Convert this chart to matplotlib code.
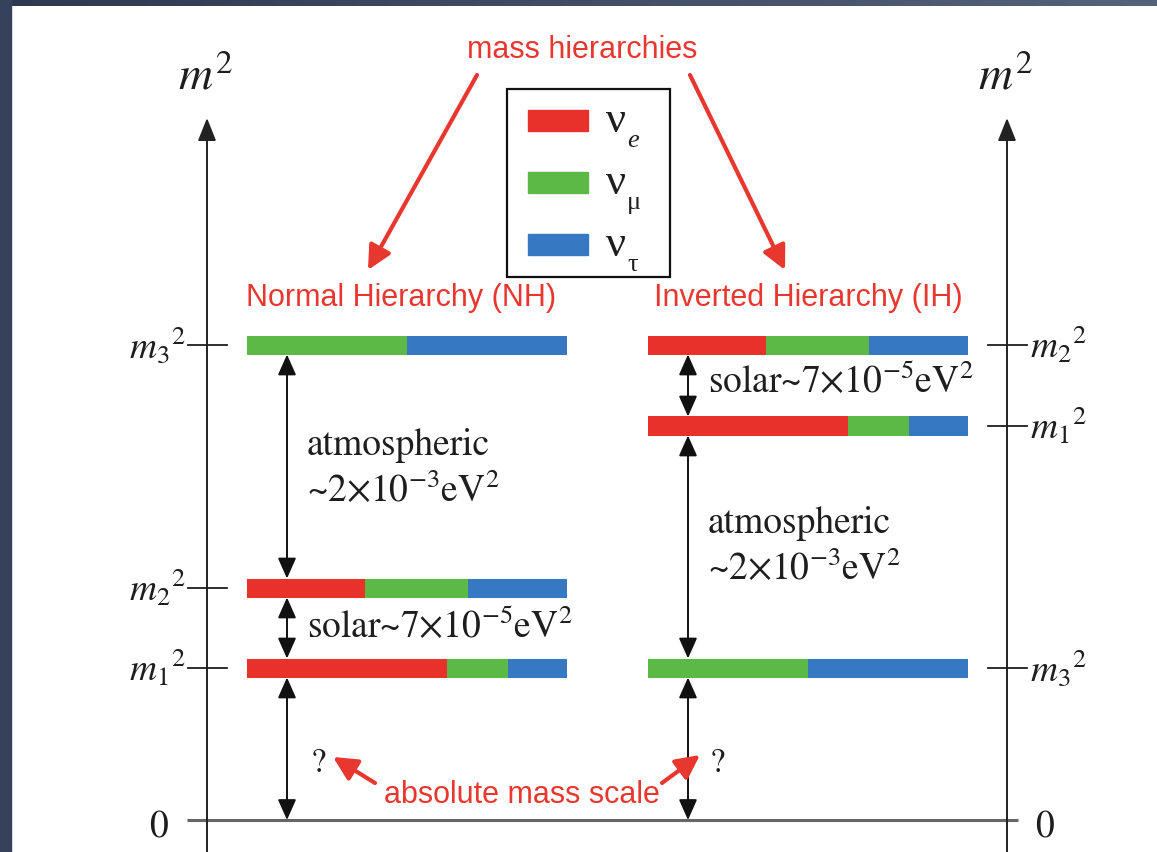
import numpy as np
import matplotlib
matplotlib.use('Agg')
import matplotlib.pyplot as plt
from matplotlib.patches import Rectangle
from matplotlib.colors import LinearSegmentedColormap


# (0) Data: squared-mass levels (arbitrary units) and flavour content
mass_names   = ['m_1', 'm_2', 'm_3']
nh_levels    = [1.52, 2.32, 4.75]
ih_levels    = [3.94, 4.75, 1.52]
flavour_frac = {'m_1': [0.625, 0.19, 0.185],
                'm_2': [0.37, 0.32, 0.31],
                'm_3': [0.0, 0.50, 0.50]}
flavour_lbl  = ['e', 'μ', 'τ']
flavour_col  = ['#e8312a', '#5cb946', '#3778c3']
atm_text     = ['atmospheric', r'~2$\times$10$^{-3}$eV$^2$']
sol_text     = r'solar~7$\times$10$^{-5}$eV$^2$'


plt.rcParams['font.family'] = ['STIXGeneral', 'DejaVu Serif']
plt.rcParams['mathtext.fontset'] = 'stix'
RED   = '#e8372e'
INK   = '#1e1e1e'
SANS  = ['Liberation Sans Narrow', 'Liberation Sans']
GREEK = ['Liberation Serif', 'DejaVu Serif']

def X(p):  return p / 100.0
def Y(p):  return (820 - p) / 100.0


# (1) Canvas
fig = plt.figure(figsize=(11.57, 8.52), dpi=100)
ax  = fig.add_axes([0, 0, 1, 1])
ax.set_xlim(0, 11.57)
ax.set_ylim(-0.32, 8.20)
ax.axis('off')

fig.patches.append(Rectangle((0, 0), 11/1157, 1, transform=fig.transFigure,
                             color='#36415b', zorder=0))
gax = fig.add_axes([0, 1 - 6/852, 1, 6/852])
gax.imshow(np.linspace(0, 1, 256)[None, :], aspect='auto',
           cmap=LinearSegmentedColormap.from_list('bd', ['#2e3850', '#55627e']))
gax.axis('off')


# (2) Axes lines
arrow_kw = dict(arrowstyle='-|>,head_length=0.5,head_width=0.2', color='#222',
                lw=1.4, mutation_scale=28, shrinkA=0, shrinkB=0)
for xa in (2.07, 10.07):
    ax.annotate('', xy=(xa, Y(118)), xytext=(xa, -0.32), arrowprops=arrow_kw)
    ax.text(xa - 0.02, Y(78), r'$m^2$', fontsize=34, ha='center', va='center', color=INK)
ax.plot([1.87, 10.18], [0, 0], color='#666', lw=2.2, solid_capstyle='butt')
ax.text(1.58, Y(828), '0', fontsize=27, ha='center', va='center', color=INK)
ax.text(10.45, Y(828), '0', fontsize=27, ha='center', va='center', color=INK)


# (3) Levels
bar_w = 3.2
def draw_scheme(levels, x0, side):
    for name, lev in zip(mass_names, levels):
        left = x0
        for f, c in zip(flavour_frac[name], flavour_col):
            if f > 0:
                ax.barh(lev, bar_w * f, left=left, height=0.19, color=c, zorder=2)
            left += bar_w * f
        lbl = r'${%s}^2$' % name
        if side == 'left':
            ax.plot([1.88, 2.27], [lev, lev], color=INK, lw=1.3)
            ax.text(1.86, lev, lbl, fontsize=27, ha='right', va='center', color=INK)
        else:
            ax.plot([9.88, 10.27], [lev, lev], color=INK, lw=1.3)
            ax.text(10.30, lev, lbl, fontsize=27, ha='left', va='center', color=INK)

draw_scheme(nh_levels, 2.47, 'left')
draw_scheme(ih_levels, 6.48, 'right')


# (4) Splittings
dbl = dict(arrowstyle='<|-|>,head_length=0.45,head_width=0.2', color='#111',
           lw=1.4, mutation_scale=28, shrinkA=0, shrinkB=0)
hb = 0.095
def split(x, lo, hi):
    ax.annotate('', xy=(x, hi - hb), xytext=(x, lo + hb), arrowprops=dbl, zorder=3)

m1, m2, m3 = nh_levels
split(2.87, m2, m3)
split(2.87, m1, m2)
split(2.87, -hb, m1)
ax.text(X(307), Y(455), atm_text[0], fontsize=27, va='baseline', color=INK)
ax.text(X(307), Y(502), atm_text[1], fontsize=27, va='baseline', color=INK)
ax.text(X(307), Y(638), sol_text, fontsize=27, va='baseline', color=INK)
ax.text(X(318), Y(772), '?', fontsize=25, ha='center', va='baseline', color=INK)

m1, m2, m3 = ih_levels
split(6.88, m1, m2)
split(6.88, m3, m1)
split(6.88, -hb, m3)
ax.text(X(708), Y(393), sol_text, fontsize=27, va='baseline', color=INK)
ax.text(X(708), Y(533), atm_text[0], fontsize=27, va='baseline', color=INK)
ax.text(X(708), Y(580), atm_text[1], fontsize=27, va='baseline', color=INK)
ax.text(X(717), Y(772), '?', fontsize=25, ha='center', va='baseline', color=INK)


# (5) Legend
ax.add_patch(Rectangle((X(507), Y(277)), X(670) - X(507), Y(89) - Y(277),
                       fill=False, ec='#111', lw=1.6, zorder=4))
for i, (lbl, c) in enumerate(zip(flavour_lbl, flavour_col)):
    yc = 121 + 62 * i
    ax.add_patch(Rectangle((X(528), Y(yc + 10)), X(588) - X(528), 0.21,
                           color=c, zorder=4))
    ax.text(X(606), Y(yc), 'ν', fontsize=32, va='center', ha='left', color=INK,
            family=GREEK)
    ax.text(X(627), Y(yc + 20), lbl, fontsize=19, va='center', ha='left', color=INK,
            family=GREEK, style='italic' if lbl == 'e' else 'normal')


# (6) Red annotations
red_kw = dict(arrowstyle='-|>,head_length=0.6,head_width=0.3', color=RED,
              lw=3.0, mutation_scale=24, shrinkA=0, shrinkB=0)
ax.text(X(582), Y(50), 'mass hierarchies', fontsize=22, ha='center', va='center',
        color=RED, family=SANS)
ax.annotate('', xy=(X(368), Y(270)), xytext=(X(477), Y(75)), arrowprops=red_kw)
ax.annotate('', xy=(X(785), Y(270)), xytext=(X(690), Y(75)), arrowprops=red_kw)
ax.text(X(401), Y(298), 'Normal Hierarchy (NH)', fontsize=22, ha='center', va='center',
        color=RED, family=SANS)
ax.text(X(808), Y(298), 'Inverted Hierarchy (IH)', fontsize=22, ha='center', va='center',
        color=RED, family=SANS)
ax.text(X(522), Y(795), 'absolute mass scale', fontsize=22, ha='center', va='center',
        color=RED, family=SANS)
ax.annotate('', xy=(X(333), Y(757)), xytext=(X(375), Y(783)), arrowprops=red_kw, zorder=5)
ax.annotate('', xy=(X(700), Y(755)), xytext=(X(662), Y(783)), arrowprops=red_kw, zorder=5)

fig.savefig('out.png', dpi=100)
